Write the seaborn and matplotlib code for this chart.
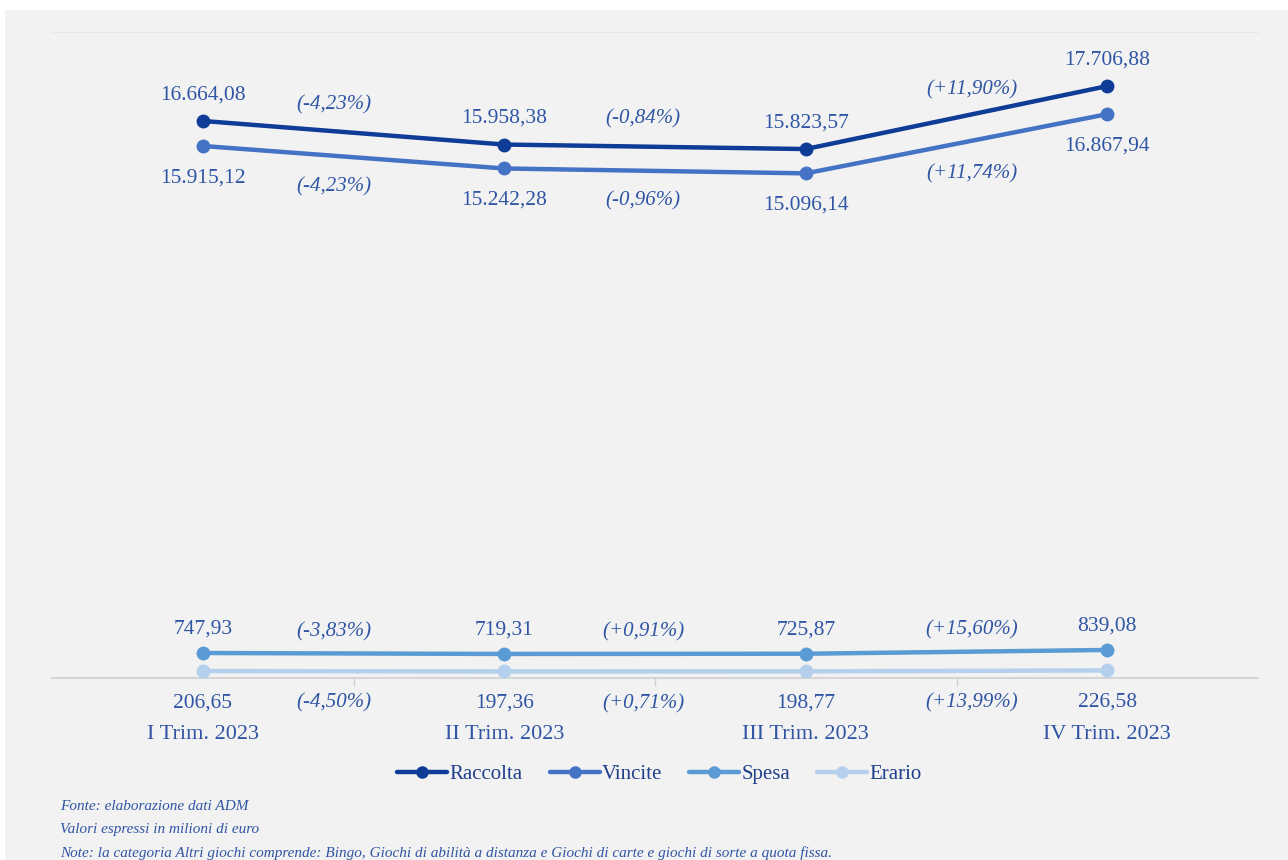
import pandas as pd
import matplotlib
matplotlib.use("Agg")
import matplotlib.pyplot as plt
import seaborn as sns
from matplotlib.lines import Line2D
from matplotlib.patches import Rectangle

# dati (milioni di euro)
trimestri = ["I Trim. 2023", "II Trim. 2023", "III Trim. 2023", "IV Trim. 2023"]
raccolta = [16664.08, 15958.38, 15823.57, 17706.88]
vincite = [15915.12, 15242.28, 15096.14, 16867.94]
spesa = [747.93, 719.31, 725.87, 839.08]
erario = [206.65, 197.36, 198.77, 226.58]

var_raccolta = ["(-4,23%)", "(-0,84%)", "(+11,90%)"]
var_vincite = ["(-4,23%)", "(-0,96%)", "(+11,74%)"]
var_spesa = ["(-3,83%)", "(+0,91%)", "(+15,60%)"]
var_erario = ["(-4,50%)", "(+0,71%)", "(+13,99%)"]

serie = ["Raccolta", "Vincite", "Spesa", "Erario"]
colori = ["#0E3C97", "#4472C4", "#5B9BD5", "#B4D0EC"]
testo = "#2F55A4"

df = pd.DataFrame({
    "trimestre": trimestri * 4,
    "valore": raccolta + vincite + spesa + erario,
    "serie": [s for s in serie for _ in trimestri],
})

sns.set_theme(style="white")
plt.rcParams["font.family"] = ["Liberation Serif", "DejaVu Serif"]

fig = plt.figure(figsize=(12.88, 8.6), dpi=100, facecolor="white")
fig.patches.append(Rectangle((5 / 1288, 0), 1, 1 - 10 / 860, transform=fig.transFigure,
                             facecolor="#f2f2f2", edgecolor="none", zorder=-10))
ax = fig.add_axes([52 / 1288, 1 - 678 / 860, (1258 - 52) / 1288, (678 - 32) / 860])
ax.patch.set_alpha(0)

for s, c in zip(serie, colori):
    sns.lineplot(data=df[df["serie"] == s], x="trimestre", y="valore", color=c,
                 marker="o", markersize=10, markeredgewidth=0, linewidth=3.2,
                 ax=ax, legend=False, zorder=3)

ax.set_xlim(-0.5, 3.5)
ax.set_ylim(0, 19325)

def fmt(v):
    s = f"{v:,.2f}"
    return s.replace(",", "X").replace(".", ",").replace("X", ".")

# spostamento orizzontale delle etichette % (pixel)
dx_pct = [-20, -12, 15]

etichette = [(raccolta, 26, var_raccolta, 28),
             (vincite, -32, var_vincite, -30),
             (spesa, 24, var_spesa, 22),
             (erario, -32, var_erario, -32)]
for valori, dy, var, dyp in etichette:
    for i, v in enumerate(valori):
        ax.annotate(fmt(v), (i, v), xytext=(0, dy), textcoords="offset pixels",
                    ha="center", va="center", fontsize=15.5, color=testo)
    for i, p in enumerate(var):
        ym = (valori[i] + valori[i + 1]) / 2
        ax.annotate(p, (i + 0.5, ym), xytext=(dx_pct[i], dyp), textcoords="offset pixels",
                    ha="center", va="center", fontsize=15, color=testo, style="italic")

ax.set_xlabel("")
ax.set_ylabel("")
ax.set_yticks([])
ax.set_xticks(range(4))
ax.set_xticklabels(trimestri, fontsize=16, color=testo)
ax.set_xticks([0.5, 1.5, 2.5], minor=True)
ax.tick_params(axis="x", which="major", length=0, pad=34)
ax.tick_params(axis="x", which="minor", length=6, width=1, color="#d0d0d0", direction="out", bottom=True)
for sp in ["left", "right"]:
    ax.spines[sp].set_visible(False)
ax.spines["bottom"].set_color("#d0d0d0")
ax.spines["top"].set_color("#e8e8e8")
ax.spines["top"].set_linewidth(0.8)

handles = [Line2D([0], [0], color=c, marker="o", markersize=9, markeredgewidth=0, linewidth=3.2)
           for c in colori]
fig.legend(handles, serie, loc="center", bbox_to_anchor=(0.512, 1 - 774 / 860), ncol=4,
           frameon=False, fontsize=15, handlelength=2.4, handletextpad=0.1,
           columnspacing=1.3, labelcolor="#1F3E8C")

note = ["Fonte: elaborazione dati ADM",
        "Valori espressi in milioni di euro",
        "Note: la categoria Altri giochi comprende: Bingo, Giochi di abilità a distanza e Giochi di carte e giochi di sorte a quota fissa."]
for k, t in enumerate(note):
    fig.text(60 / 1288, 1 - (806 + 23.5 * k) / 860, t, fontsize=11, style="italic",
             color=testo, va="center", ha="left")

fig.savefig("out.png", dpi=100, facecolor=fig.get_facecolor())
